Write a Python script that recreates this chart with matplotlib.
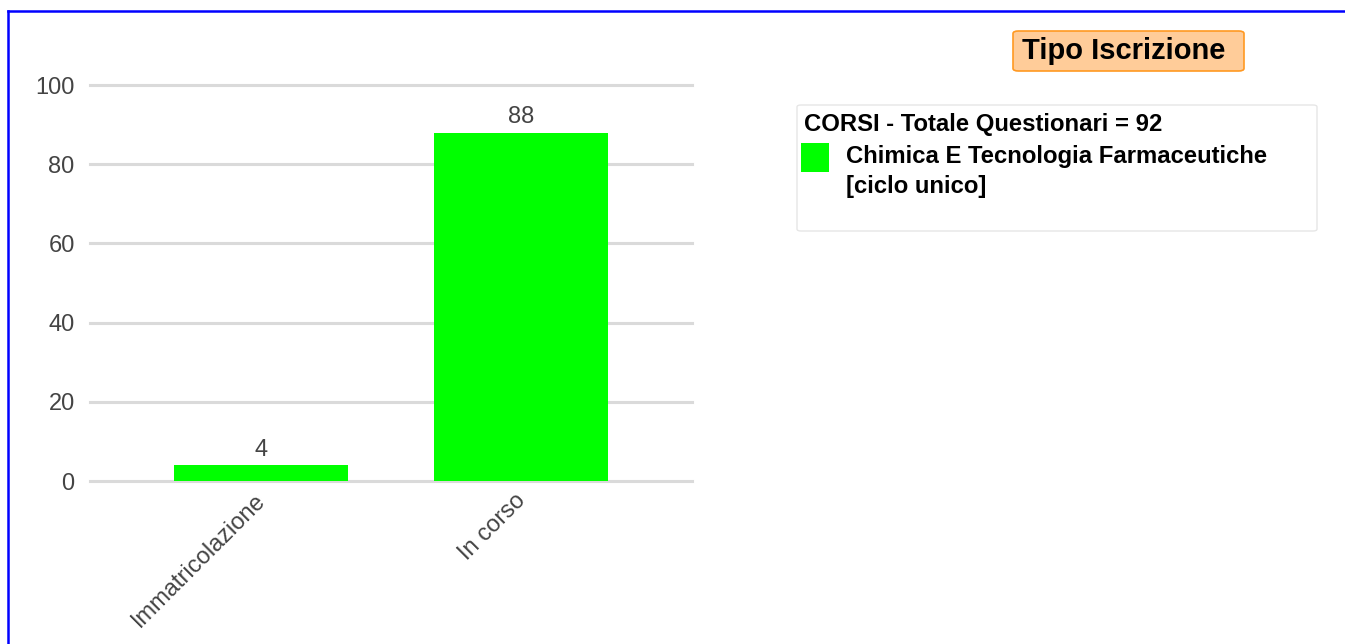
import matplotlib
matplotlib.use("Agg")
import matplotlib.pyplot as plt
from matplotlib.patches import FancyBboxPatch, Rectangle
from matplotlib.lines import Line2D
from matplotlib.transforms import ScaledTranslation

# data
categories = ["Immatricolazione", "In corso"]
values = [4, 88]
y_ticks = [0, 20, 40, 60, 80, 100]
chart_title = "Tipo Iscrizione"
legend_title = "CORSI - Totale Questionari = 92"
series_name = "Chimica E Tecnologia Farmaceutiche\n[ciclo unico]"
bar_color = "#00ff00"

W, H = 1345, 644


def fx(px):
    return px / W


def fy(py):
    return 1 - py / H


def run_main():
    plt.rcParams["font.family"] = ["Liberation Sans", "DejaVu Sans"]

    fig = plt.figure(figsize=(W / 100, H / 100), dpi=100)
    fig.patch.set_facecolor("white")

    # plot area: 90..692 px wide, y=0 at 481 px, y=100 at 85 px
    ax = fig.add_axes([fx(90), fy(481), fx(692) - fx(90), fy(85) - fy(481)])
    bars = ax.bar(range(len(categories)), values, width=0.67, color=bar_color, zorder=2)
    ax.set_xlim(-0.658, len(categories) - 1 + 0.658)
    ax.set_ylim(0, 100)
    ax.set_yticks(y_ticks)
    ax.set_axisbelow(True)
    ax.grid(axis="y", color="#dadada", linewidth=2.2)
    for gl in ax.get_ygridlines():
        gl.set_clip_on(False)
    for s in ax.spines.values():
        s.set_visible(False)
    ax.tick_params(axis="y", length=0, pad=11, labelsize=17, labelcolor="#444444")
    ax.tick_params(axis="x", length=0, pad=6)
    ax.set_xticks(range(len(categories)))
    ax.set_xticklabels(categories, rotation=45, ha="right", rotation_mode="anchor",
                       fontsize=17, color="#444444")
    shift = ScaledTranslation(-7 / 100, 0, fig.dpi_scale_trans)
    for lab in ax.get_xticklabels():
        lab.set_transform(lab.get_transform() + shift)
    ax.bar_label(bars, labels=[str(v) for v in values], padding=3,
                 fontsize=17, color="#444444")

    # chart title box
    fig.patches.append(FancyBboxPatch(
        (fx(1013), fy(71)), fx(1244) - fx(1013), fy(31) - fy(71),
        boxstyle="round,pad=0,rounding_size=0.004", transform=fig.transFigure,
        facecolor="#ffcc99", edgecolor="#ff9922", linewidth=1.2))
    fig.text(fx(1022), fy(51), chart_title, fontsize=21, fontweight="bold",
             va="center", ha="left", color="black")

    # legend box
    fig.patches.append(FancyBboxPatch(
        (fx(797), fy(231)), fx(1317) - fx(797), fy(105) - fy(231),
        boxstyle="round,pad=0,rounding_size=0.003", transform=fig.transFigure,
        facecolor="white", edgecolor="#e6e6e6", linewidth=1.0))
    fig.text(fx(804), fy(125), legend_title, fontsize=17.2, fontweight="bold",
             va="center", ha="left", color="black")
    fig.patches.append(Rectangle(
        (fx(801), fy(172)), fx(829) - fx(801), fy(143) - fy(172),
        transform=fig.transFigure, facecolor=bar_color, edgecolor="none"))
    fig.text(fx(846), fy(145), series_name, fontsize=17.2, fontweight="bold",
             va="top", ha="left", color="black", linespacing=1.4)

    # blue frame (top and left edges)
    fig.add_artist(Line2D([fx(8), 1], [fy(11), fy(11)], transform=fig.transFigure,
                          color="#0000ff", linewidth=1.8))
    fig.add_artist(Line2D([fx(8), fx(8)], [fy(11), 0], transform=fig.transFigure,
                          color="#0000ff", linewidth=1.8))

    fig.savefig("out.png", dpi=100, facecolor="white")


if __name__ == "__main__":
    run_main()
